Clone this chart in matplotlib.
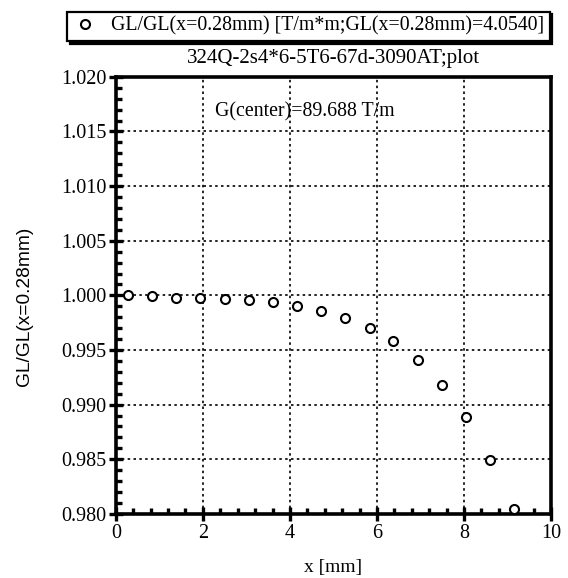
import numpy as np
import matplotlib
matplotlib.use('Agg')
import matplotlib.pyplot as plt
from matplotlib.ticker import MultipleLocator, FormatStrFormatter

x_mm = [0.28, 0.83, 1.39, 1.94, 2.50, 3.05, 3.61, 4.16, 4.72, 5.27,
        5.83, 6.38, 6.94, 7.49, 8.05, 8.60, 9.16]
gl_ratio = [1.0000, 0.99990, 0.99972, 0.99972, 0.99970, 0.99957, 0.99939, 0.99905,
            0.99856, 0.99792, 0.99698, 0.99578, 0.99404, 0.99181, 0.98882,
            0.98497, 0.98048]

legend_label = 'GL/GL(x=0.28mm) [T/m*m;GL(x=0.28mm)=4.0540]'
title = '324Q-2s4*6-5T6-67d-3090AT;plot'
note = 'G(center)=89.688 T/m'

plt.rcParams['font.family'] = ['Liberation Serif', 'DejaVu Serif']

fig = plt.figure(figsize=(5.68, 5.78), dpi=100)
ax = fig.add_axes([0.204, 0.111, 0.766, 0.756])

ax.plot(x_mm, gl_ratio, 'o', mfc='white', mec='black', ms=6.5, mew=1.5,
        label=legend_label, clip_on=False, zorder=5)

ax.set_xlim(0, 10)
ax.set_ylim(0.980, 1.020)
ax.xaxis.set_major_locator(MultipleLocator(2))
ax.xaxis.set_minor_locator(MultipleLocator(0.4))
ax.yaxis.set_major_locator(MultipleLocator(0.005))
ax.yaxis.set_minor_locator(MultipleLocator(0.001))
ax.yaxis.set_major_formatter(FormatStrFormatter('%.3f'))
ax.tick_params(which='major', direction='inout', length=10, width=2.4, labelsize=14.5, pad=2)
ax.tick_params(which='minor', direction='in', length=4, width=2.4)
for s in ax.spines.values():
    s.set_linewidth(2.6)

ax.grid(True, which='major', color='black', linestyle=(0, (1.5, 2)), linewidth=1.2)

ax.set_xlabel('x [mm]', fontsize=14, labelpad=12)
ax.set_ylabel('GL/GL(x=0.28mm)', fontsize=13.8, family='Liberation Sans')
ax.yaxis.set_label_coords(-0.19, 0.475)
ax.set_title(title, fontsize=15, pad=10)
ax.text(2.28, 1.0164, note, fontsize=14.3)

leg = fig.legend(loc='upper left', bbox_to_anchor=(0.1, 0.997), fontsize=14.3,
                 fancybox=False, edgecolor='black', framealpha=1,
                 shadow={'color': 'black', 'alpha': 1}, handletextpad=0.7,
                 borderpad=0.25, handlelength=1.3)
leg.get_frame().set_linewidth(1.6)

fig.savefig('out.png', dpi=100)
